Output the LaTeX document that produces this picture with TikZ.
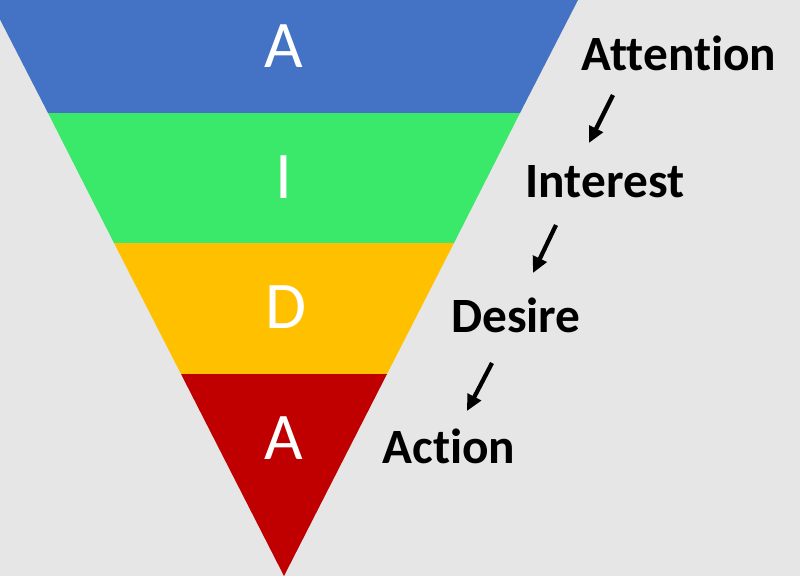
\documentclass[tikz,border=0pt]{standalone}
\usepackage{fontspec}
\setmainfont[Ligatures=NoCommon]{Carlito}
\usetikzlibrary{arrows.meta, positioning}
\definecolor{bgGray}{RGB}{230,230,230}
\definecolor{aidaBlue}{RGB}{68,114,196}
\definecolor{aidaGreen}{RGB}{58,232,106}
\definecolor{aidaYellow}{RGB}{255,192,0}
\definecolor{aidaRed}{RGB}{192,0,0}

\begin{document}
\begin{tikzpicture}[x=0.75pt, y=-0.75pt,
		letter/.style={inner sep=0pt, anchor=base, text=white, font=\fontsize{50}{50}\selectfont},
		stage/.style={inner sep=0pt, anchor=base, font=\fontsize{37}{40}\selectfont\bfseries},
		flow/.style={line width=3.2pt, -{Triangle[length=12pt,width=11pt]}}]
		\useasboundingbox (0,0) rectangle (800,576);
		\fill[bgGray] (0,0) rectangle (800,576);

		% funnel bands
		\fill[aidaBlue] (-10,0) -- (578,0) -- (520,113) -- (48,113) -- cycle;
		\fill[aidaGreen] (48,113) -- (520,113) -- (454,243) -- (114,243) -- cycle;
		\fill[aidaYellow] (114,243) -- (454,243) -- (387,374) -- (181,374) -- cycle;
		\fill[aidaRed] (181,374) -- (387,374) -- (284,576) -- cycle;

		\node[letter] (la) at (284,67) {A};
		\node[letter] (li) at (284,198) {I};
		\node[letter] (ld) at (286,328) {D};
		\node[letter] (lx) at (284,459) {A};

		\node[stage] (att) at (679,70) {Attention};
		\node[stage] (int) at (605,197) {Interest};
		\node[stage] (des) at (516,332) {Desire};
		\node[stage] (act) at (449,463) {Action};

		\coordinate (a1) at (613,95);
		\coordinate (b1) at (589,143);
		\coordinate (a2) at (556,225);
		\coordinate (b2) at (533,273);
		\coordinate (a3) at (492,363);
		\coordinate (b3) at (467,411);

		\draw[flow] (a1) -- (b1);
		\draw[flow] (a2) -- (b2);
		\draw[flow] (a3) -- (b3);
	\end{tikzpicture}
\end{document}
